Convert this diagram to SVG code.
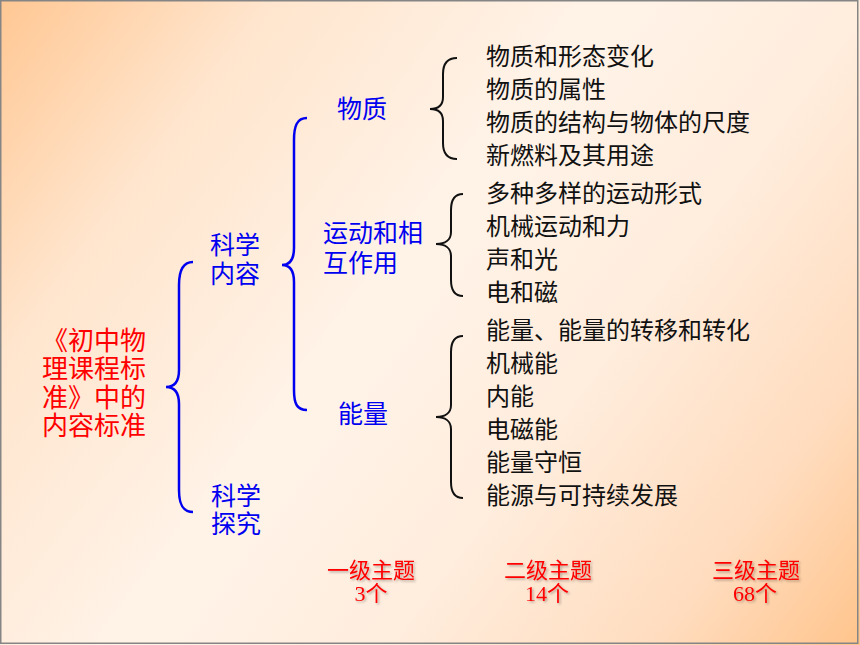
<svg xmlns="http://www.w3.org/2000/svg" width="860" height="645" viewBox="0 0 860 645">
<defs>
<linearGradient id="bg" gradientUnits="userSpaceOnUse" x1="0" y1="0" x2="860" y2="645">
<stop offset="0" stop-color="#FFC793"/>
<stop offset="0.2" stop-color="#FFE5CD"/>
<stop offset="0.45" stop-color="#FFF3E8"/>
<stop offset="0.65" stop-color="#FFEDDD"/>
<stop offset="0.85" stop-color="#FFDCBE"/>
<stop offset="1" stop-color="#FFC48C"/>
</linearGradient>
<filter id="sh" x="-10%" y="-20%" width="130%" height="150%">
<feDropShadow dx="1.5" dy="1.5" stdDeviation="0.8" flood-color="#000" flood-opacity="0.3"/>
</filter>
</defs>
<style>
text{font-family:"Noto Sans CJK SC","Liberation Sans",sans-serif}
.blue{fill:#0000F0;font-size:25px}
.red{fill:#FF0000;font-size:26px}
.blk{fill:#111;font-size:24px}
.cnt{fill:#FF0000;font-size:22px;font-family:"Liberation Serif","Noto Sans CJK SC",serif;text-anchor:middle;filter:url(#sh)}
.bb{fill:none;stroke:#0000F0;stroke-width:2.5}
.kb{fill:none;stroke:#111;stroke-width:2}
</style>
<rect x="0" y="0" width="860" height="645" fill="url(#bg)"/>
<rect x="0.75" y="0.75" width="857" height="642.5" fill="none" stroke="#858585" stroke-width="1.5"/>

<g id="connectors">
<path class="bb" d="M193,262 C183,262 179,270 179,285 L179,370 C179,381 175,387 166,387 C175,387 179,393 179,404 L179,490 C179,505 183,512 193,512"/>
<path class="bb" d="M307,118 C297,118 294,126 294,140 L294,248 C294,259 290,265 282,265 C290,265 294,271 294,282 L294,390 C294,404 297,410 307,410"/>
<path class="kb" d="M457,58 C447,58 443,64 443,74 L443,97 C443,105 439,109 430,109 C439,109 443,113 443,121 L443,143 C443,153 447,159 457,159"/>
<path class="kb" d="M463,194 C455,194 451,200 451,210 L451,232 C451,240 445,244 436,244 C445,244 451,248 451,256 L451,280 C451,290 455,296 463,296"/>
<path class="kb" d="M463,336 C455,336 451,342 451,352 L451,405 C451,413 445,417 436,417 C445,417 451,421 451,429 L451,482 C451,492 455,498 463,498"/>
</g>

<g id="root">
<text class="red" x="42" y="350">《初中物</text>
<text class="red" x="42" y="378">理课程标</text>
<text class="red" x="42" y="407">准》中的</text>
<text class="red" x="42" y="435">内容标准</text>
</g>

<g id="kexueneirong">
<text class="blue" x="210" y="254">科学</text>
<text class="blue" x="210" y="283">内容</text>
</g>
<g id="kexuetanjiu">
<text class="blue" x="211" y="505">科学</text>
<text class="blue" x="211" y="533">探究</text>
</g>

<g id="wuzhi">
<text class="blue" x="337" y="118">物质</text>
</g>
<g id="yundong">
<text class="blue" x="323" y="242">运动和相</text>
<text class="blue" x="323" y="272">互作用</text>
</g>
<g id="nengliang">
<text class="blue" x="338" y="423">能量</text>
</g>

<g id="wuzhi-items">
<text class="blk" x="486" y="65">物质和形态变化</text>
<text class="blk" x="486" y="98">物质的属性</text>
<text class="blk" x="486" y="131">物质的结构与物体的尺度</text>
<text class="blk" x="486" y="164">新燃料及其用途</text>
</g>
<g id="yundong-items">
<text class="blk" x="486" y="202">多种多样的运动形式</text>
<text class="blk" x="486" y="235">机械运动和力</text>
<text class="blk" x="486" y="268">声和光</text>
<text class="blk" x="486" y="301">电和磁</text>
</g>
<g id="nengliang-items">
<text class="blk" x="486" y="339">能量、能量的转移和转化</text>
<text class="blk" x="486" y="372">机械能</text>
<text class="blk" x="486" y="405">内能</text>
<text class="blk" x="486" y="438">电磁能</text>
<text class="blk" x="486" y="471">能量守恒</text>
<text class="blk" x="486" y="504">能源与可持续发展</text>
</g>

<g id="level1">
<text class="cnt" x="371" y="578">一级主题</text>
<text class="cnt" x="371" y="601">3个</text>
</g>
<g id="level2">
<text class="cnt" x="548" y="578">二级主题</text>
<text class="cnt" x="547" y="601">14个</text>
</g>
<g id="level3">
<text class="cnt" x="756" y="578">三级主题</text>
<text class="cnt" x="755" y="601">68个</text>
</g>
</svg>
